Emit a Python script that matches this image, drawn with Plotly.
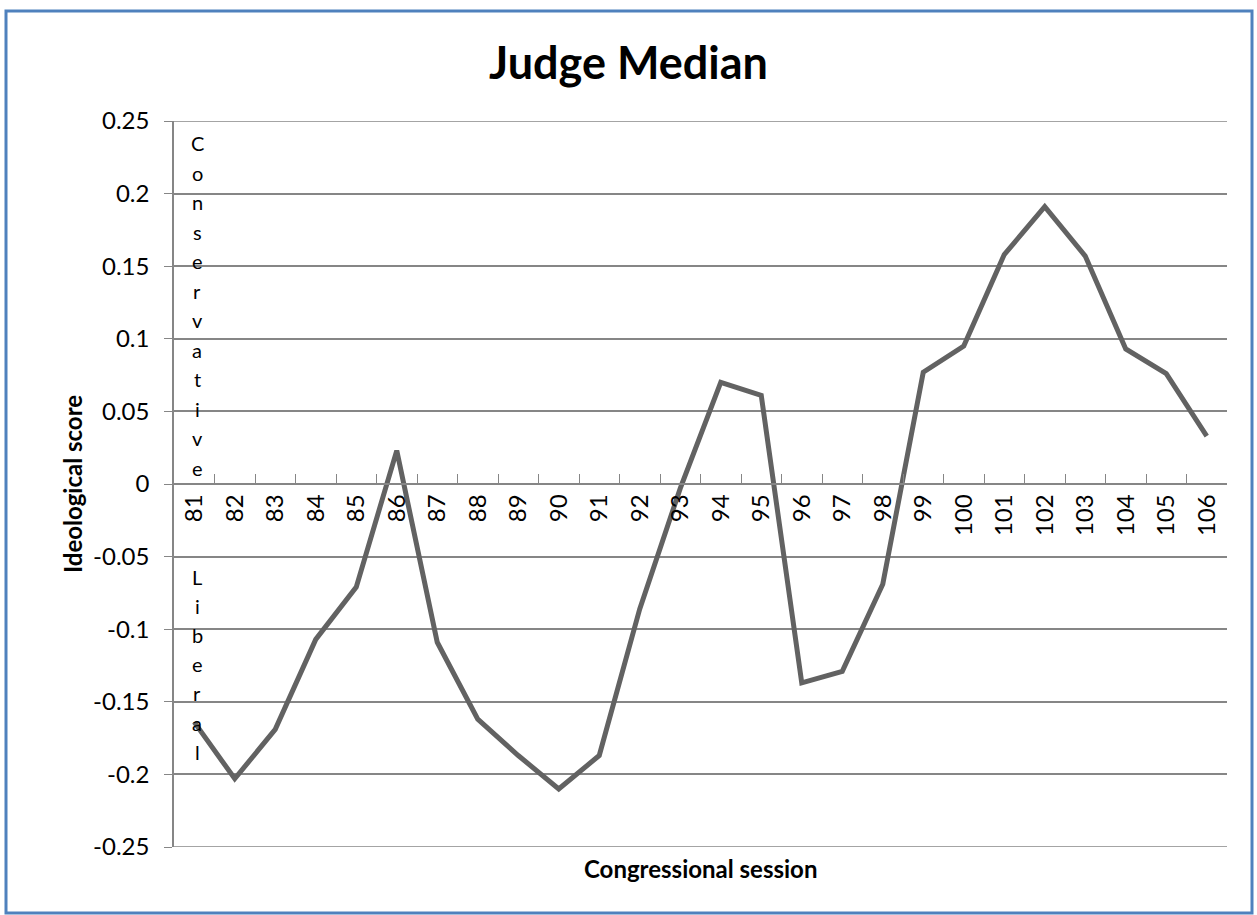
import plotly.graph_objects as go

FONT = "Lato, Calibri, sans-serif"
LINE_GREY = "#868686"

sessions = [str(s) for s in range(81, 107)]
median_scores = [
    -0.164, -0.203, -0.169, -0.107, -0.071, 0.023, -0.109, -0.162, -0.187, -0.210,
    -0.187, -0.086, -0.003, 0.070, 0.061, -0.137, -0.129, -0.069, 0.077, 0.095,
    0.158, 0.191, 0.157, 0.093, 0.076, 0.033,
]
y_tick_vals = [0.25, 0.2, 0.15, 0.1, 0.05, 0, -0.05, -0.1, -0.15, -0.2, -0.25]
y_tick_text = ["0.25", "0.2", "0.15", "0.1", "0.05", "0", "-0.05", "-0.1", "-0.15", "-0.2", "-0.25"]

fig = go.Figure()
fig.add_trace(
    go.Scatter(
        x=sessions,
        y=median_scores,
        mode="lines",
        line=dict(color="#626262", width=5),
        showlegend=False,
    )
)

# plot area: x 174..1227, y 121..847 in a 1257x915 page
W, H = 1257, 915
L, R, T, B = 174, 30, 121, 68
pw, ph = W - L - R, H - T - B


def px_x(x):
    return (x - L) / pw


def px_y(y):
    return (H - B - y) / ph


fig.update_layout(
    width=W,
    height=H,
    margin=dict(l=L, r=R, t=T, b=B),
    paper_bgcolor="white",
    plot_bgcolor="white",
    font=dict(family=FONT, size=24, color="black"),
    title=dict(
        text="<b>Judge Median</b>",
        font=dict(size=45, family=FONT, color="black"),
        x=0.5,
        xref="container",
        xanchor="center",
        y=1 - 63 / H,
        yref="container",
        yanchor="middle",
    ),
    showlegend=False,
)

fig.update_xaxes(
    type="category",
    anchor="free",
    position=0.5,
    showgrid=False,
    showline=True,
    linecolor=LINE_GREY,
    linewidth=1.5,
    ticks="inside",
    ticklen=9,
    tickwidth=1.2,
    tickcolor=LINE_GREY,
    tickson="boundaries",
    tickangle=-90,
    tickfont=dict(size=24),
    range=[-0.5, len(sessions) - 0.5],
    zeroline=False,
)
fig.update_yaxes(
    range=[-0.25, 0.25],
    tickvals=y_tick_vals,
    ticktext=y_tick_text,
    showgrid=True,
    gridcolor=LINE_GREY,
    gridwidth=1.5,
    showline=True,
    linecolor=LINE_GREY,
    linewidth=1.5,
    ticks="outside",
    ticklen=8,
    tickcolor=LINE_GREY,
    ticklabelstandoff=10,
    tickfont=dict(size=24),
    zeroline=False,
)

# top and bottom edges of the plot area
for yv in (0.25, -0.25):
    fig.add_shape(type="line", xref="paper", yref="y", x0=0, x1=1, y0=yv, y1=yv,
                  line=dict(color=LINE_GREY, width=1.5))

# vertical lettering inside the plot (next to the first session)
for i, ch in enumerate("Conservative"):
    fig.add_annotation(text=ch, xref="x", yref="y", x=0, y=0.2348 - i * 0.02032,
                       xshift=3, showarrow=False, font=dict(size=20, family=FONT))
for i, ch in enumerate("Liberal"):
    fig.add_annotation(text=ch, xref="x", yref="y", x=0, y=-0.0638 - i * 0.0201,
                       xshift=3, showarrow=False, font=dict(size=20, family=FONT))

fig.add_annotation(text="<b>Congressional session</b>", xref="paper", yref="paper",
                   x=px_x(700), y=px_y(868), xanchor="center", yanchor="middle",
                   showarrow=False, font=dict(size=24, family=FONT))
fig.add_annotation(text="<b>Ideological score</b>", xref="paper", yref="paper",
                   x=px_x(72), y=0.5, xanchor="center", yanchor="middle",
                   textangle=-90, showarrow=False, font=dict(size=24, family=FONT))

# blue chart frame
fig.add_shape(type="rect", xref="paper", yref="paper",
              x0=px_x(6), x1=px_x(1252), y0=px_y(913), y1=px_y(11),
              line=dict(color="#4F81BD", width=3), layer="below")

fig.write_html("out.html", config={"displayModeBar": False},
               post_script="document.body.style.margin='0px';")
